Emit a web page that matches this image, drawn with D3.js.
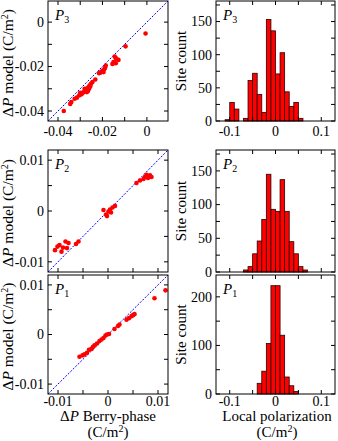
<!DOCTYPE html>
<html>
<head>
<meta charset="utf-8">
<script src="https://cdn.jsdelivr.net/npm/d3@7"></script>
<style>
  body { margin: 0; background: #fff; }
  svg text { font-family: "Liberation Serif", "DejaVu Serif", serif; fill: #000; }
</style>
</head>
<body>
<svg id="chart" width="338" height="441"></svg>
<script>
// scatter data: Berry-phase dP vs model dP (C/m^2)
const p3Berry = [-0.0006, -0.0096, -0.0145, -0.0140, -0.0135, -0.0128, -0.0150, -0.0140, -0.0155,
  -0.0185, -0.0188, -0.0192, -0.0198, -0.0205, -0.0210, -0.0215, -0.0195,
  -0.0232, -0.0245, -0.0252, -0.0258, -0.0262, -0.0268, -0.0272, -0.0275, -0.0265, -0.0280,
  -0.0270, -0.0285, -0.0290, -0.0295, -0.0300, -0.0305, -0.0260, -0.0255,
  -0.0315, -0.0325, -0.0340, -0.0345, -0.0374];
const p3Model = [-0.0051, -0.0109, -0.0155, -0.0162, -0.0168, -0.0170, -0.0180, -0.0185, -0.0188,
  -0.0195, -0.0205, -0.0212, -0.0218, -0.0222, -0.0228, -0.0230, -0.0225,
  -0.0258, -0.0270, -0.0278, -0.0285, -0.0292, -0.0298, -0.0305, -0.0310, -0.0310, -0.0300,
  -0.0315, -0.0315, -0.0320, -0.0325, -0.0318, -0.0330, -0.0300, -0.0290,
  -0.0340, -0.0345, -0.0360, -0.0368, -0.0400];

const p2Berry = [0.0057, 0.0064, 0.0074, 0.0077, 0.0084, 0.0087, 0.0080, 0.0071,
  -0.0009, -0.0004, 0.0001, 0.0004, 0.0009, 0.0014, -0.0002, 0.0006,
  -0.0106, -0.0101, -0.0097, -0.0090, -0.0085, -0.0079, -0.0082, -0.0059, -0.0064, -0.0093];
const p2Model = [0.0055, 0.0060, 0.0067, 0.0071, 0.0070, 0.0067, 0.0065, 0.0063,
  0.0002, -0.0007, -0.0001, 0.0003, 0.0007, 0.0010, -0.0010, -0.0003,
  -0.0077, -0.0070, -0.0067, -0.0072, -0.0060, -0.0063, -0.0073, -0.0060, -0.0065, -0.0080];

const p1Berry = [-0.0057, -0.0051, -0.0047, -0.0042, -0.0038, -0.0033, -0.0030, -0.0027, -0.0022,
  -0.0017, -0.0013, -0.0009, -0.0005, -0.0002, 0.0002, 0.0013, 0.0020, 0.0023,
  0.0037, 0.0042, 0.0047, 0.0050, 0.0053, 0.0093, 0.0115];
const p1Model = [-0.0045, -0.0042, -0.0040, -0.0037, -0.0031, -0.0029, -0.0025, -0.0022, -0.0018,
  -0.0013, -0.0010, -0.0007, -0.0002, 0.0000, 0.0001, 0.0011, 0.0017, 0.0020,
  0.0030, 0.0033, 0.0037, 0.0039, 0.0041, 0.0073, 0.0089];

// histograms: bin left edges (width 0.01) and site counts
const p3BinEdges = [-0.11, -0.10, -0.09, -0.08, -0.07, -0.06, -0.05, -0.04, -0.03, -0.02, -0.01,
  0.00, 0.01, 0.02, 0.03, 0.04, 0.05];
const p3Counts = [2, 28, 18, 0, 4, 61, 72, 40, 13, 153, 136, 71, 103, 44, 22, 28, 4];

const p2BinEdges = [-0.07, -0.06, -0.05, -0.04, -0.03, -0.02, -0.01, 0.00, 0.01, 0.02, 0.03,
  0.04, 0.05, 0.06];
const p2Counts = [3, 8, 27, 46, 78, 145, 93, 90, 137, 90, 45, 27, 8, 3];

const p1BinEdges = [-0.04, -0.03, -0.02, -0.01, 0.00, 0.01, 0.02, 0.03, 0.04];
const p1Counts = [22, 47, 104, 223, 223, 121, 35, 17, 5];

const binWidth = 0.01;

const svg = d3.select("#chart");

const rows = [
  { top: 1, bottom: 121, name: "3", berry: p3Berry, model: p3Model, sdom: [-0.0445, 0.0095],
    sMinor: 0.01, sMajor: [-0.04, -0.02, 0], edges: p3BinEdges, counts: p3Counts,
    hmax: 181, hMinor: 25, hMajor: [0, 50, 100, 150], xLabY: 136 },
  { top: 150, bottom: 272, name: "2", berry: p2Berry, model: p2Model, sdom: [-0.012, 0.012],
    sMinor: 0.005, sMajor: [-0.01, 0, 0.01], edges: p2BinEdges, counts: p2Counts,
    hmax: 181, hMinor: 25, hMajor: [0, 50, 100, 150], xLabY: null },
  { top: 275, bottom: 394, name: "1", berry: p1Berry, model: p1Model, sdom: [-0.012, 0.012],
    sMinor: 0.005, sMajor: [-0.01, 0, 0.01], edges: p1BinEdges, counts: p1Counts,
    hmax: 245, hMinor: 50, hMajor: [0, 100, 200], xLabY: 406 }
];

const L = { x0: 48, x1: 168 };
const R = { x0: 216, x1: 335 };
const tickLen = 4;
const fmt = v => (Math.abs(v) < 1e-9 ? "0" : String(+v.toFixed(3)));

function frame(g, x, y, xt, yt) {
  const [xa, xb] = x.range(), [ya, yb] = y.range();
  g.append("rect")
    .attr("x", xa).attr("y", yb)
    .attr("width", xb - xa).attr("height", ya - yb)
    .attr("fill", "none").attr("stroke", "#000").attr("stroke-width", 1);
  xt.forEach(v => {
    const px = x(v);
    g.append("line").attr("x1", px).attr("x2", px).attr("y1", ya).attr("y2", ya - tickLen)
      .attr("stroke", "#000");
    g.append("line").attr("x1", px).attr("x2", px).attr("y1", yb).attr("y2", yb + tickLen)
      .attr("stroke", "#000");
  });
  yt.forEach(v => {
    const py = y(v);
    g.append("line").attr("x1", xa).attr("x2", xa + tickLen).attr("y1", py).attr("y2", py)
      .attr("stroke", "#000");
    g.append("line").attr("x1", xb).attr("x2", xb - tickLen).attr("y1", py).attr("y2", py)
      .attr("stroke", "#000");
  });
}

function ticksBetween(dom, step) {
  const out = [];
  for (let v = Math.ceil(dom[0] / step - 1e-6) * step; v <= dom[1] + 1e-9; v += step) out.push(+v.toFixed(4));
  return out;
}

function panelLabel(g, x, y, n) {
  const t = g.append("text").attr("x", x).attr("y", y).attr("font-size", 15);
  t.append("tspan").attr("font-style", "italic").text("P");
  t.append("tspan").attr("font-size", 10).attr("dy", 3).text(n);
}

rows.forEach(r => {
  // scatter
  const g = svg.append("g");
  const x = d3.scaleLinear().domain(r.sdom).range([L.x0, L.x1]);
  const y = d3.scaleLinear().domain(r.sdom).range([r.bottom, r.top]);
  const clip = "clip" + r.name;
  g.append("clipPath").attr("id", clip).append("rect")
    .attr("x", L.x0).attr("y", r.top).attr("width", L.x1 - L.x0).attr("height", r.bottom - r.top);

  g.append("line")
    .attr("clip-path", `url(#${clip})`)
    .attr("x1", x(r.sdom[0])).attr("y1", y(r.sdom[0]))
    .attr("x2", x(r.sdom[1])).attr("y2", y(r.sdom[1]))
    .attr("stroke", "#0000ff").attr("stroke-width", 1)
    .attr("stroke-dasharray", "2,1.5");

  const pts = r.berry.map((b, i) => ({ b, m: r.model[i] }));
  g.append("g").attr("clip-path", `url(#${clip})`)
    .selectAll("circle").data(pts).join("circle")
    .attr("cx", d => x(d.b)).attr("cy", d => y(d.m))
    .attr("r", 2.3).attr("fill", "#ff0000");

  const mt = ticksBetween(r.sdom, r.sMinor);
  frame(g, x, y, mt, mt);

  r.sMajor.forEach(v => {
    g.append("text").attr("x", L.x0 - 4).attr("y", y(v)).attr("dy", "0.35em")
      .attr("text-anchor", "end").attr("font-size", 14).text(fmt(v));
    if (r.xLabY) {
      g.append("text").attr("x", x(v)).attr("y", r.xLabY)
        .attr("text-anchor", "middle").attr("font-size", 14).text(fmt(v));
    }
  });

  const yl = g.append("text")
    .attr("transform", `translate(13,${(r.top + r.bottom) / 2 + 2}) rotate(-90)`)
    .attr("text-anchor", "middle").attr("font-size", 15.5);
  yl.append("tspan").text("Δ");
  yl.append("tspan").attr("font-style", "italic").text("P");
  yl.append("tspan").text(" model (C/m");
  yl.append("tspan").attr("font-size", 10).attr("dy", -5).text("2");
  yl.append("tspan").attr("dy", 5).text(")");

  panelLabel(g, 55, r.top + 19, r.name);

  // histogram
  const h = svg.append("g");
  const hx = d3.scaleLinear().domain([-0.13, 0.13]).range([R.x0, R.x1]);
  const hy = d3.scaleLinear().domain([0, r.hmax]).range([r.bottom, r.top]);
  const bins = r.edges.map((e, i) => ({ e, c: r.counts[i] })).filter(d => d.c > 0);
  h.selectAll("rect.bar").data(bins).join("rect")
    .attr("class", "bar")
    .attr("x", d => hx(d.e)).attr("width", d => hx(d.e + binWidth) - hx(d.e))
    .attr("y", d => hy(d.c)).attr("height", d => hy(0) - hy(d.c))
    .attr("fill", "#ff0000").attr("stroke", "#2a0000").attr("stroke-width", 0.8);

  frame(h, hx, hy, ticksBetween([-0.13, 0.13], 0.05), ticksBetween([0, r.hmax], r.hMinor));

  r.hMajor.forEach(v => {
    h.append("text").attr("x", R.x0 - 4).attr("y", hy(v)).attr("dy", "0.35em")
      .attr("text-anchor", "end").attr("font-size", 14).text(v);
  });
  if (r.xLabY) {
    [-0.1, 0, 0.1].forEach(v => {
      h.append("text").attr("x", hx(v)).attr("y", r.xLabY)
        .attr("text-anchor", "middle").attr("font-size", 14).text(fmt(v));
    });
  }
  h.append("text")
    .attr("transform", `translate(186,${(r.top + r.bottom) / 2}) rotate(-90)`)
    .attr("text-anchor", "middle").attr("font-size", 15).text("Site count");

  panelLabel(h, 223, r.top + 19, r.name);
});

// bottom axis titles
const bx = svg.append("text").attr("x", 108).attr("y", 421).attr("text-anchor", "middle").attr("font-size", 15);
bx.append("tspan").text("Δ");
bx.append("tspan").attr("font-style", "italic").text("P");
bx.append("tspan").text(" Berry-phase");

function unitLabel(cx) {
  const u = svg.append("text").attr("x", cx).attr("y", 437).attr("text-anchor", "middle").attr("font-size", 15);
  u.append("tspan").text("(C/m");
  u.append("tspan").attr("font-size", 10).attr("dy", -5).text("2");
  u.append("tspan").attr("dy", 5).text(")");
}
unitLabel(108);

svg.append("text").attr("x", 277).attr("y", 421).attr("text-anchor", "middle").attr("font-size", 15)
  .text("Local polarization");
unitLabel(277);
</script>
</body>
</html>
